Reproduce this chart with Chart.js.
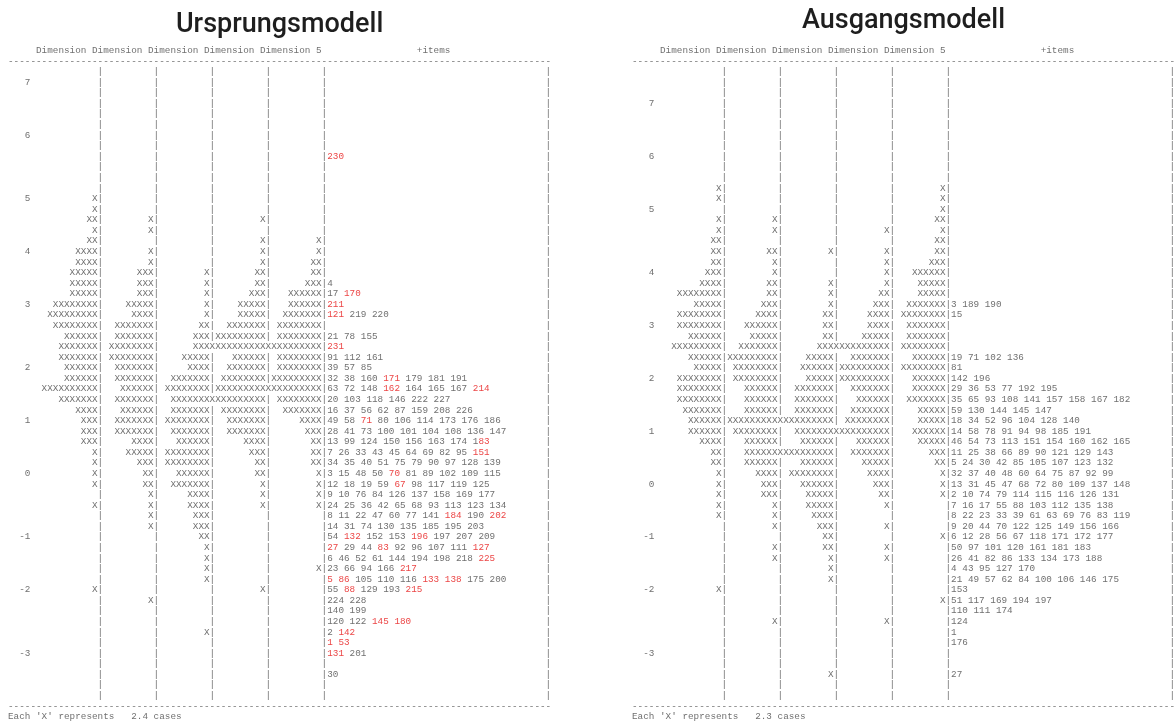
<!DOCTYPE html>
<html>
<head>
<meta charset="utf-8">
<script src="https://cdn.jsdelivr.net/npm/chart.js@4/dist/chart.umd.min.js"></script>
<style>
  body { margin: 0; background: #fff; }
  canvas { position: absolute; top: 0; }
  #left { left: 0; }
  #right { left: 632px; }
</style>
</head>
<body>
<canvas id="left" width="590" height="722"></canvas>
<canvas id="right" width="543" height="722"></canvas>
<script>
// rows of the wright map, row 0 = top. 5 dimension columns of X's, then items

const headerText = 'Dimension Dimension Dimension Dimension Dimension 5'
const itemsHeader = '+items'

// ---------- Ursprungsmodell ----------
const logitLeft = [
  '', '7', '', '', '', '', '6', '', '', '',
  '', '', '5', '', '', '', '', '4', '', '',
  '', '', '3', '', '', '', '', '', '2', '',
  '', '', '', '1', '', '', '', '', '0', '',
  '', '', '', '', '-1', '', '', '', '', '-2',
  '', '', '', '', '', '-3', '', '', '', ''
]
const dim1Left = [
  0, 0, 0, 0, 0, 0, 0, 0, 0, 0,
  0, 0, 1, 1, 2, 1, 2, 4, 4, 5,
  5, 5, 8, 9, 8, 6, 7, 7, 6, 6,
  10, 7, 4, 3, 3, 3, 1, 1, 1, 1,
  0, 1, 0, 0, 0, 0, 0, 0, 0, 1,
  0, 0, 0, 0, 0, 0, 0, 0, 0, 0
]
const dim2Left = [
  0, 0, 0, 0, 0, 0, 0, 0, 0, 0,
  0, 0, 0, 0, 1, 1, 0, 1, 1, 3,
  3, 3, 5, 4, 7, 7, 8, 8, 7, 7,
  6, 7, 6, 7, 7, 4, 5, 3, 2, 2,
  1, 1, 1, 1, 0, 0, 0, 0, 0, 0,
  1, 0, 0, 0, 0, 0, 0, 0, 0, 0
]
const dim3Left = [
  0, 0, 0, 0, 0, 0, 0, 0, 0, 0,
  0, 0, 0, 0, 0, 0, 0, 0, 0, 1,
  1, 1, 1, 1, 2, 3, 3, 5, 4, 7,
  8, 7, 7, 8, 7, 6, 8, 8, 6, 7,
  4, 4, 3, 3, 2, 1, 1, 1, 1, 0,
  0, 0, 0, 1, 0, 0, 0, 0, 0, 0
]
const dim4Left = [
  0, 0, 0, 0, 0, 0, 0, 0, 0, 0,
  0, 0, 0, 0, 1, 0, 1, 1, 1, 2,
  2, 3, 5, 5, 7, 9, 10, 6, 7, 8,
  9, 10, 8, 7, 7, 4, 3, 2, 2, 1,
  1, 1, 0, 0, 0, 0, 0, 0, 0, 1,
  0, 0, 0, 0, 0, 0, 0, 0, 0, 0
]
const dim5Left = [
  0, 0, 0, 0, 0, 0, 0, 0, 0, 0,
  0, 0, 0, 0, 0, 0, 1, 1, 2, 2,
  3, 6, 6, 7, 8, 8, 10, 8, 8, 9,
  10, 8, 7, 4, 3, 2, 2, 2, 1, 1,
  1, 1, 0, 0, 0, 0, 0, 1, 0, 0,
  0, 0, 0, 0, 0, 0, 0, 0, 0, 0
]
// [..] = item shown in red
const itemsLeft = [
  '', '', '', '', '', '', '', '', '[230]', '',
  '', '', '', '', '', '', '', '', '', '',
  '4', '17 [170]', '[211]', '[121] 219 220', '', '21 78 155', '[231]', '91 112 161', '39 57 85', '32 38 160 [171] 179 181 191',
  '63 72 148 [162] 164 165 167 [214]', '20 103 118 146 222 227', '16 37 56 62 87 159 208 226',
  '49 58 [71] 80 106 114 173 176 186', '28 41 73 100 101 104 108 136 147', '13 99 124 150 156 163 174 1[83]',
  '7 26 33 43 45 64 69 82 95 [151]', '34 35 40 51 75 79 90 97 128 139', '3 15 48 50 [70] 81 89 102 109 115',
  '12 18 19 59 [67] 98 117 119 125',
  '9 10 76 84 126 137 158 169 177', '24 25 36 42 65 68 93 113 123 134', '8 11 22 47 60 77 141 [184] 190 [202]',
  '14 31 74 130 135 185 195 203', '54 [132] 152 153 [196] 197 207 209', '[27] 29 44 [83] 92 96 107 111 [127]',
  '6 46 52 61 144 194 198 218 [225]', '23 66 94 166 [217]', '[5 86] 105 110 116 [133 138] 175 200',
  '55 [88] 129 193 [215]',
  '224 228', '140 199', '120 122 [145 180]', '2 [142]', '[1 53]', '[131] 201', '', '30', '', ''
]

// ---------- Ausgangsmodell ----------
const logitRight = [
  '', '', '', '7', '', '', '', '', '6', '',
  '', '', '', '5', '', '', '', '', '', '4',
  '', '', '', '', '3', '', '', '', '', '2',
  '', '', '', '', '1', '', '', '', '', '0',
  '', '', '', '', '-1', '', '', '', '', '-2',
  '', '', '', '', '', '-3', '', '', '', ''
]
const dim1Right = [
  0, 0, 0, 0, 0, 0, 0, 0, 0, 0,
  0, 1, 1, 0, 1, 1, 2, 2, 2, 3,
  4, 8, 5, 8, 8, 6, 9, 6, 5, 8,
  8, 8, 7, 6, 6, 4, 2, 2, 1, 1,
  1, 1, 1, 0, 0, 0, 0, 0, 0, 1,
  0, 0, 0, 0, 0, 0, 0, 0, 0, 0
]
const dim2Right = [
  0, 0, 0, 0, 0, 0, 0, 0, 0, 0,
  0, 0, 0, 0, 1, 1, 0, 2, 1, 1,
  2, 2, 3, 4, 6, 5, 7, 9, 8, 8,
  6, 6, 6, 9, 8, 6, 6, 6, 4, 3,
  3, 1, 1, 1, 0, 1, 1, 0, 0, 0,
  0, 0, 1, 0, 0, 0, 0, 0, 0, 0
]
const dim3Right = [
  0, 0, 0, 0, 0, 0, 0, 0, 0, 0,
  0, 0, 0, 0, 0, 0, 0, 1, 0, 0,
  1, 1, 1, 2, 2, 2, 3, 5, 6, 5,
  7, 7, 7, 10, 7, 6, 10, 6, 8, 6,
  5, 5, 4, 3, 2, 2, 1, 1, 1, 0,
  0, 0, 0, 0, 0, 0, 0, 1, 0, 0
]
const dim4Right = [
  0, 0, 0, 0, 0, 0, 0, 0, 0, 0,
  0, 0, 0, 0, 0, 1, 0, 1, 1, 1,
  1, 2, 3, 4, 4, 5, 10, 7, 9, 9,
  7, 6, 7, 8, 10, 6, 7, 5, 4, 3,
  2, 1, 0, 1, 0, 1, 1, 0, 0, 0,
  0, 0, 1, 0, 0, 0, 0, 0, 0, 0
]
const dim5Right = [
  0, 0, 0, 0, 0, 0, 0, 0, 0, 0,
  0, 1, 1, 1, 2, 1, 2, 2, 3, 6,
  5, 5, 7, 8, 7, 7, 8, 6, 8, 6,
  6, 7, 5, 5, 6, 5, 3, 2, 1, 1,
  1, 0, 0, 0, 1, 0, 0, 0, 0, 0,
  1, 0, 0, 0, 0, 0, 0, 0, 0, 0
]
const itemsRight = [
  '', '', '', '', '', '', '', '', '', '',
  '', '', '', '', '', '', '', '', '', '',
  '', '', '3 189 190', '15', '', '', '', '19 71 102 136', '81', '142 196',
  '29 36 53 77 192 195', '35 65 93 108 141 157 158 167 182', '59 130 144 145 147',
  '18 34 52 96 104 128 140', '14 58 78 91 94 98 185 191', '46 54 73 113 151 154 160 162 165',
  '11 25 38 66 89 90 121 129 143', '5 24 30 42 85 105 107 123 132', '32 37 40 48 60 64 75 87 92 99',
  '13 31 45 47 68 72 80 109 137 148',
  '2 10 74 79 114 115 116 126 131', '7 16 17 55 88 103 112 135 138', '8 22 23 33 39 61 63 69 76 83 119',
  '9 20 44 70 122 125 149 156 166', '6 12 28 56 67 118 171 172 177', '50 97 101 120 161 181 183',
  '26 41 82 86 133 134 173 188', '4 43 95 127 170', '21 49 57 62 84 100 106 146 175', '153',
  '51 117 169 194 197', '110 111 174', '124', '1', '176', '', '', '27', '', ''
]

// text grid: character columns
const barCols = [16, 26, 36, 46, 56]
const borderCol = 96
const itemCol = 57
const nCols = 97
const mono = '9.3px "Liberation Mono", "Courier New", monospace'
const grey = '#707070'
const red = '#ec4646'

function personChars(label, counts) {
  const chars = Array(nCols).fill(' ')
  barCols.concat(borderCol).forEach(c => { chars[c] = '|' })
  for (let i = 0; i < label.length; i++) chars[4 - label.length + i] = label[i]
  // X's are right aligned against the bar of their dimension, long runs spill left
  counts.forEach((n, k) => {
    for (let i = 0; i < n; i++) chars[barCols[k] - 1 - i] = 'X'
  })
  return chars
}

function itemChars(s) {
  const out = []
  let isRed = false
  for (const ch of s) {
    if (ch === '[') { isRed = true; continue }
    if (ch === ']') { isRed = false; continue }
    out.push({ ch, isRed })
  }
  return out
}

const wrightPlugin = {
  id: 'wright',
  afterDraw(chart, args, opts) {
    const { ctx } = chart
    const x = chart.scales.x
    const y = chart.scales.y
    ctx.save()
    ctx.font = mono
    ctx.textAlign = 'center'
    ctx.textBaseline = 'middle'
    const put = (ch, col, row, color) => {
      if (ch === ' ') return
      ctx.fillStyle = color
      ctx.fillText(ch, x.getPixelForValue(col + 0.5), y.getPixelForValue(row))
    }
    const putText = (s, col, row) => {
      for (let i = 0; i < s.length; i++) put(s[i], col + i, row, grey)
    }

    putText(headerText, 5, -2)
    putText(itemsHeader, 73, -2)
    putText('-'.repeat(nCols), 0, -1)

    opts.logit.forEach((label, r) => {
      const counts = opts.dims.map(d => d[r])
      personChars(label, counts).forEach((ch, c) => put(ch, c, r, grey))
      itemChars(opts.items[r]).forEach((p, i) => put(p.ch, itemCol + i, r, p.isRed ? red : grey))
    })

    const last = opts.logit.length
    putText('-'.repeat(nCols), 0, last)
    putText(opts.footer, 0, last + 1)
    ctx.restore()
  }
}

function makeMap(id, title, logit, dims, items, footer, pad, titlePad) {
  return new Chart(document.getElementById(id), {
    type: 'scatter',
    data: { datasets: [] },
    options: {
      responsive: false,
      animation: false,
      layout: { padding: pad },
      scales: {
        x: { type: 'linear', min: 0, max: nCols, display: false },
        y: { type: 'linear', min: -2.5, max: logit.length + 1.5, reverse: true, display: false }
      },
      plugins: {
        legend: { display: false },
        tooltip: { enabled: false },
        title: {
          display: true,
          text: title,
          color: '#1e1e1e',
          font: { family: 'Roboto', size: 27, weight: '500' },
          padding: titlePad
        },
        wright: { logit, dims, items, footer }
      }
    },
    plugins: [wrightPlugin]
  })
}

makeMap('left', 'Ursprungsmodell', logitLeft,
  [dim1Left, dim2Left, dim3Left, dim4Left, dim5Left], itemsLeft,
  "Each 'X' represents   2.4 cases",
  { left: 8, right: 38.8, top: 0, bottom: 0 }, { top: 9, bottom: 3.9 })

makeMap('right', 'Ausgangsmodell', logitRight,
  [dim1Right, dim2Right, dim3Right, dim4Right, dim5Right], itemsRight,
  "Each 'X' represents   2.3 cases",
  { left: 0, right: 0, top: 0, bottom: 0 }, { top: 5, bottom: 7.9 })
</script>
</body>
</html>
